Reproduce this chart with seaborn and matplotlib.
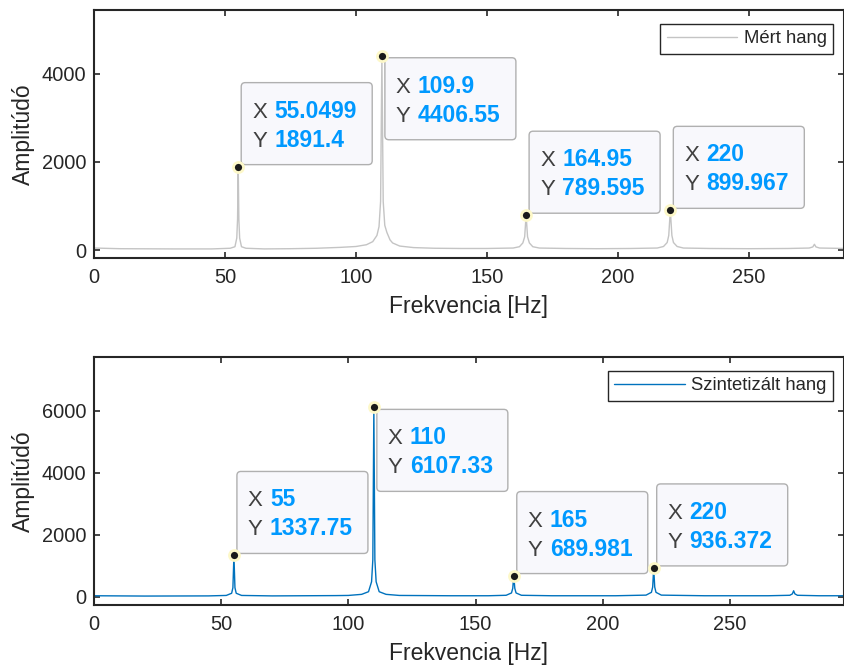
import numpy as np
import pandas as pd
import seaborn as sns
import matplotlib
matplotlib.use("Agg")
import matplotlib.pyplot as plt
from matplotlib.patches import FancyBboxPatch
from matplotlib.transforms import ScaledTranslation

# ---- spectrum of the measured note (frequency [Hz], amplitude) ----
measured_freq = [0, 10, 30, 45, 52, 53.8, 54.5, 54.8, 55.0499, 55.3, 55.6, 56.3, 58, 65,
                 75, 85, 94, 100, 104, 106.4, 108, 108.8, 109.4, 109.9, 110.4, 111, 111.8,
                 113, 114, 116.7, 122, 130, 140, 150, 160, 162.4, 163.7, 164.4, 164.95,
                 165.5, 166.2, 167.5, 170, 180, 192, 205, 215, 217.4, 218.8, 219.4, 220,
                 220.6, 221.2, 222.6, 225, 235, 250, 265, 273, 274.4, 275, 275.6, 277, 287]
measured_amp = [45, 30, 25, 25, 40, 75, 270, 700, 1891.4, 700, 270, 75, 40, 25,
                30, 40, 60, 80, 120, 190, 330, 530, 1100, 4406.55, 1100, 560, 400,
                230, 160, 90, 55, 40, 35, 35, 45, 75, 160, 300, 789.595,
                300, 160, 75, 45, 35, 30, 35, 45, 80, 170, 330, 899.967,
                330, 170, 80, 45, 35, 30, 35, 45, 70, 130, 70, 45, 35]

# ---- spectrum of the synthesised note ----
synth_freq = [0, 20, 45, 52, 54.1, 54.6, 55, 55.4, 55.9, 58, 70, 95, 100, 105.2, 107.9,
              109.1, 109.6, 110, 110.4, 110.9, 112.1, 114.8, 120, 140, 155, 162, 164.1,
              164.6, 165, 165.4, 165.9, 168, 180, 205, 217, 219.1, 219.6, 220, 220.4,
              220.9, 223, 240, 265, 273.5, 274.5, 275, 275.5, 276.5, 285, 295]
synth_amp = [40, 30, 35, 50, 120, 300, 1337.75, 300, 120, 50, 35, 45, 50, 85, 170,
             490, 1200, 6107.33, 1200, 490, 170, 85, 50, 40, 40, 55, 130,
             280, 689.981, 280, 130, 55, 40, 40, 60, 150, 320, 936.372, 320,
             150, 60, 40, 40, 55, 100, 200, 100, 55, 40, 40]

# ---- marked peaks ----
measured_peak_x = [55.0499, 109.9, 164.95, 220]
measured_peak_y = [1891.4, 4406.55, 789.595, 899.967]
synth_peak_x = [55, 110, 165, 220]
synth_peak_y = [1337.75, 6107.33, 689.981, 936.372]

x_ticks = [0, 50, 100, 150, 200, 250]
measured_y_ticks = [0, 2000, 4000]
synth_y_ticks = [0, 2000, 4000, 6000]

# placement of each data tip box relative to its point
tip_place = ["ur", "lr", "ur", "ur"]

sns.set_theme(style="ticks")
plt.rcParams["font.family"] = ["Liberation Sans", "DejaVu Sans"]

DARK = "#262626"
TIP_BLUE = "#0099ff"

fig = plt.figure(figsize=(8.45, 6.72), dpi=100)
ax_top = fig.add_axes([94 / 845, 1 - 258 / 672, 750 / 845, 248 / 672])
ax_bot = fig.add_axes([94 / 845, 1 - 605 / 672, 750 / 845, 248 / 672])


def data_tip(ax, x, y, place):
    trans = fig.dpi_scale_trans + ScaledTranslation(x, y, ax.transData)
    w, h = 1.31, 0.82
    x0 = 0.03
    y0 = 0.02 if place == "ur" else -0.02 - h
    box = FancyBboxPatch((x0, y0), w, h,
                         boxstyle="round,pad=0,rounding_size=0.04",
                         transform=trans, fc="#f8f8fc", ec="#b0b0b0", lw=1.0,
                         zorder=6, clip_on=False)
    ax.add_patch(box)
    for label, val, base in (("X", x, 0.47), ("Y", y, 0.18)):
        ax.text(x0 + 0.11, y0 + base, label, transform=trans, fontsize=16,
                color="#404040", va="baseline", ha="left", zorder=7)
        ax.text(x0 + 0.33, y0 + base, f"{val:.6g}", transform=trans, fontsize=16.5,
                color=TIP_BLUE, fontweight="bold", va="baseline", ha="left", zorder=7)
    ax.plot([x], [y], "o", ms=7.2, mfc="#1a1a1a", mec="#fdf8c8", mew=2.0,
            zorder=8, clip_on=False)


def style_axes(ax, xmax, ylim, yticks):
    ax.set_xlim(0, xmax)
    ax.set_ylim(*ylim)
    ax.set_xticks(x_ticks)
    ax.set_yticks(yticks)
    ax.tick_params(direction="in", length=4.5, width=1.2, top=True, right=True,
                   labelsize=14.4, colors=DARK, pad=7)
    ax.tick_params(axis="y", pad=5.5)
    for s in ax.spines.values():
        s.set_visible(True)
        s.set_color(DARK)
        s.set_linewidth(1.5)
    ax.set_xlabel("Frekvencia [Hz]", fontsize=16.5, color=DARK)
    ax.set_ylabel("Amplitúdó", fontsize=16.5, color=DARK)
    ax.xaxis.set_label_coords(0.5, -0.15)
    ax.yaxis.set_label_coords(-0.079, 0.5)
    leg = ax.legend(loc="upper right", bbox_to_anchor=(0.9853, 0.9435),
                    borderaxespad=0, fancybox=False, framealpha=1, edgecolor=DARK,
                    fontsize=13.3, handlelength=3.8, handletextpad=0.35,
                    borderpad=0.35)
    leg.get_frame().set_linewidth(1.0)


measured_df = pd.DataFrame({"f": measured_freq, "a": measured_amp})
synth_df = pd.DataFrame({"f": synth_freq, "a": synth_amp})

sns.lineplot(data=measured_df, x="f", y="a", ax=ax_top, color="#c4c4c4", lw=1.0,
             label="Mért hang", sort=False)
sns.lineplot(data=synth_df, x="f", y="a", ax=ax_bot, color="#0072bd", lw=1.0,
             label="Szintetizált hang", sort=False)

for px, py, pl in zip(measured_peak_x, measured_peak_y, tip_place):
    data_tip(ax_top, px, py, pl)
for px, py, pl in zip(synth_peak_x, synth_peak_y, tip_place):
    data_tip(ax_bot, px, py, pl)

style_axes(ax_top, 286.3, (-181, 5444), measured_y_ticks)
style_axes(ax_bot, 294.8, (-258, 7730), synth_y_ticks)

fig.savefig("out.png", dpi=100)
